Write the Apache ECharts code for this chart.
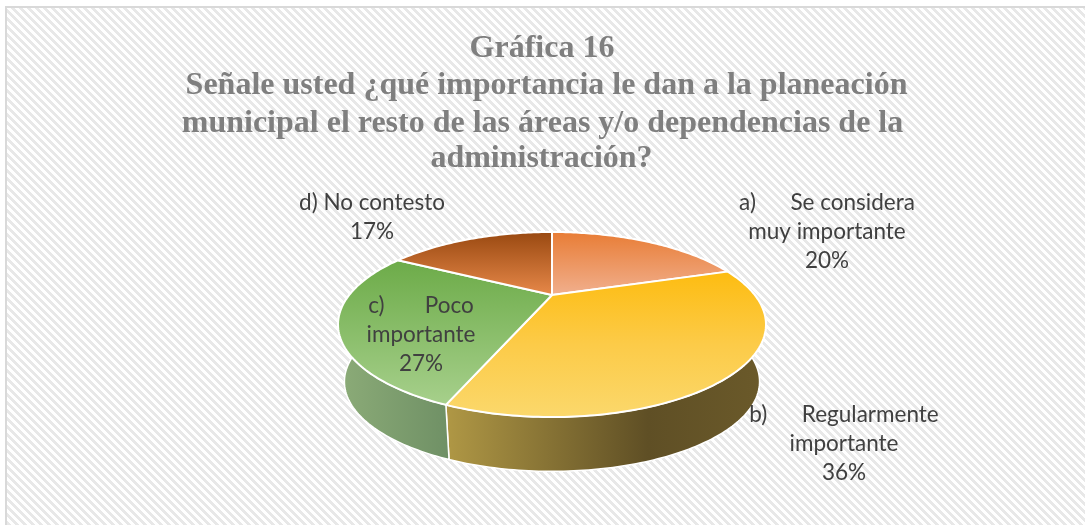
<!DOCTYPE html>
<html><head><meta charset="utf-8">
<script src="https://cdn.jsdelivr.net/npm/echarts@6/dist/echarts.min.js"></script>
<style>
html,body{margin:0;padding:0;background:#fff;overflow:hidden}
#frame{position:absolute;left:5px;top:6px;width:1080px;height:519px;box-sizing:border-box;border-left:2px solid #d9d9d9;border-top:2px solid #d9d9d9;
background:repeating-linear-gradient(45deg,#e8e8e8 0,#e8e8e8 2.83px,#fff 2.83px,#fff 5.66px)}
#chart{position:absolute;left:0;top:0;width:1085px;height:525px}
</style></head><body>
<div id="frame"></div><div id="chart"></div>
<script>
const titleLines = ["Gráfica 16","Señale usted ¿qué importancia le dan a la planeación","municipal el resto de las áreas y/o dependencias de la","administración?"];
const categories = ["a)      Se considera\nmuy importante","b)      Regularmente\nimportante","c)       Poco\nimportante","d) No contesto"];
const percents = [20,36,27,17];

// styling / layout (not data)
const titleX = [537,541.5,537.5,536.5], titleY = [44,81,119,154];
const labelPos = [[827,232],[844,444],[421,335],[372,217]];
const topColors = [[[0,"#e87c34"],[1,"#f1b08f"]],[[0,"#fdbc10"],[.5,"#fccb48"],[1,"#fbd86c"]],[[0,"#6cab48"],[1,"#a7d08c"]],[[0,"#984810"],[1,"#e8894a"]]];
const wallColors = [[[0,"#b06030"],[1,"#7a4018"]],[[0,"#b09845"],[.63,"#5f4f25"],[1,"#6b5a2a"]],[[0,"#8cac78"],[1,"#6f9065"]],[[0,"#8a4a20"],[1,"#5a3010"]]];
const CX=552, CY=295, A=202.8, B=83.1, K=0.319;
const BOTTOM_Y=353, BOTTOM_S=0.97;

function project(angle, scale, cy){
  const X=Math.sin(angle), Y=-Math.cos(angle), d=1-K*Y;
  return [CX+scale*A*X/d, cy+scale*B*Y/d];
}
function arc(a0,a1,scale,cy){
  const n=Math.max(2,Math.ceil((a1-a0)/(Math.PI/180))), pts=[];
  for(let i=0;i<=n;i++) pts.push(project(a0+(a1-a0)*i/n,scale,cy));
  return pts;
}
const total=percents.reduce((s,v)=>s+v,0);
function range(i){
  let s=0; for(let j=0;j<i;j++) s+=percents[j];
  return [s/total*2*Math.PI,(s+percents[i])/total*2*Math.PI];
}
const grad=(x0,y0,x1,y1,c)=>new echarts.graphic.LinearGradient(x0,y0,x1,y1,c.map(s=>({offset:s[0],color:s[1]})));
const seriesData=percents.map((v,i)=>({name:categories[i],value:v}));

const option={
  backgroundColor:'transparent',
  animation:false,
  title:titleLines.map((t,i)=>({text:t,left:titleX[i],top:titleY[i],textAlign:'center',textVerticalAlign:'middle',
    textStyle:{fontFamily:'"Liberation Serif"',fontWeight:'bold',fontSize:32,color:'#7f7f7f'}})),
  series:[
   {type:'custom',name:'walls',coordinateSystem:'none',z:1,data:seriesData,silent:true,
    renderItem(p,api){
      const i=p.dataIndex,[a0,a1]=range(i);
      const pts=arc(a0,a1,1,CY).concat(arc(a0,a1,BOTTOM_S,BOTTOM_Y).reverse());
      return {type:'polygon',shape:{points:pts},style:{fill:grad(0,0,1,0,wallColors[i]),stroke:'#fff',lineWidth:1.5}};
    }},
   {type:'custom',name:'tops',coordinateSystem:'none',z:2,data:seriesData,silent:true,
    renderItem(p,api){
      const i=p.dataIndex,[a0,a1]=range(i);
      const pts=[[CX,CY]].concat(arc(a0,a1,1,CY));
      return {type:'polygon',shape:{points:pts},style:{fill:grad(0,0,0,1,topColors[i]),stroke:'#fff',lineWidth:2,lineJoin:'round'}};
    }},
   {type:'custom',name:'labels',coordinateSystem:'none',z:3,data:seriesData,silent:true,
    renderItem(p,api){
      const i=p.dataIndex;
      return {type:'text',x:labelPos[i][0],y:labelPos[i][1],style:{
        text:categories[i]+"\n"+percents[i]+"%",align:'center',verticalAlign:'middle',
        font:'22.5px Lato',lineHeight:29,fill:'#404040'}};
    }}
  ]
};
const chart=echarts.init(document.getElementById('chart'),null,{renderer:'canvas',width:1085,height:525});
chart.setOption(option);
</script>
</body></html>
